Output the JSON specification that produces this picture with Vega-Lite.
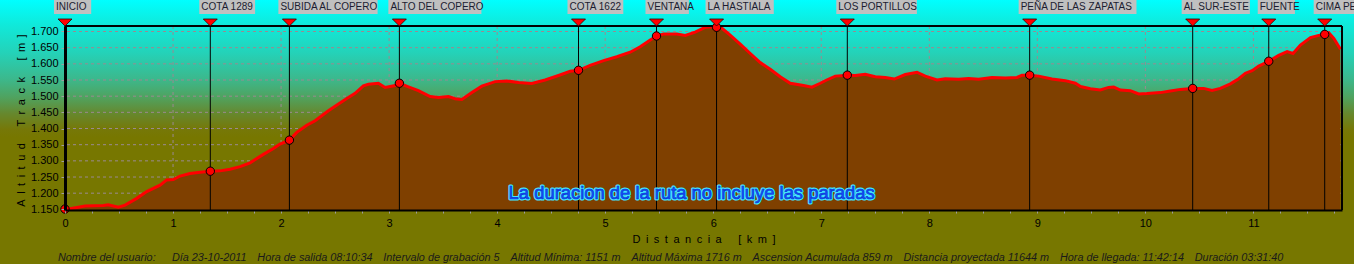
{
  "$schema": "https://vega.github.io/schema/vega-lite/v6.json",
  "width": 1277,
  "height": 184,
  "autosize": {"type": "none"},
  "padding": {"left": 65, "top": 26, "right": 12, "bottom": 54},
  "background": "#777700",
  "config": {
    "view": {"stroke": null},
    "font": "Liberation Sans",
    "axis": {"labelFont": "Liberation Sans", "labelFontSize": 11, "labelColor": "#000", "titleFont": "Liberation Sans", "titleFontSize": 11, "titleFontWeight": "normal", "titleColor": "#000", "grid": false, "labelOverlap": false}
  },
  "title": {
    "text": "Nombre del usuario:\u2002\u2002\u2002Día 23-10-2011\u2002\u2002Hora de salida 08:10:34\u2002\u2002Intervalo de grabación 5\u2002\u2002Altitud Mínima: 1151 m\u2002\u2002Altitud Máxima 1716 m\u2002\u2002Ascension Acumulada 859 m\u2002\u2002Distancia proyectada 11644 m\u2002\u2002Hora de llegada: 11:42:14\u2002\u2002Duración 03:31:40",
    "orient": "bottom", "anchor": "start", "frame": "group", "dx": -7, "offset": -12, "baseline": "top", "zindex": 1,
    "font": "Liberation Sans", "fontSize": 10.85, "fontStyle": "italic", "fontWeight": "normal", "color": "#1a1a1a"
  },
  "datasets": {
    "profile": [
      {"km": 0, "alt": 1151}, {"km": 0.046, "alt": 1152}, {"km": 0.185, "alt": 1160}, {"km": 0.355, "alt": 1162},
      {"km": 0.4, "alt": 1164}, {"km": 0.494, "alt": 1157}, {"km": 0.556, "alt": 1163}, {"km": 0.664, "alt": 1184},
      {"km": 0.756, "alt": 1205}, {"km": 0.88, "alt": 1225}, {"km": 0.941, "alt": 1241}, {"km": 1.003, "alt": 1242},
      {"km": 1.065, "alt": 1253}, {"km": 1.157, "alt": 1261}, {"km": 1.25, "alt": 1265}, {"km": 1.345, "alt": 1268},
      {"km": 1.435, "alt": 1269}, {"km": 1.528, "alt": 1274}, {"km": 1.62, "alt": 1282}, {"km": 1.713, "alt": 1294},
      {"km": 1.836, "alt": 1320}, {"km": 1.929, "alt": 1338}, {"km": 1.99, "alt": 1352}, {"km": 2.077, "alt": 1364},
      {"km": 2.145, "alt": 1388}, {"km": 2.238, "alt": 1410}, {"km": 2.315, "alt": 1424}, {"km": 2.438, "alt": 1455},
      {"km": 2.531, "alt": 1476}, {"km": 2.608, "alt": 1493}, {"km": 2.685, "alt": 1509}, {"km": 2.762, "alt": 1532},
      {"km": 2.809, "alt": 1537}, {"km": 2.901, "alt": 1540}, {"km": 2.963, "alt": 1527}, {"km": 3.056, "alt": 1533},
      {"km": 3.095, "alt": 1540}, {"km": 3.179, "alt": 1529}, {"km": 3.271, "alt": 1517}, {"km": 3.38, "alt": 1499},
      {"km": 3.457, "alt": 1496}, {"km": 3.549, "alt": 1499}, {"km": 3.611, "alt": 1492}, {"km": 3.673, "alt": 1490},
      {"km": 3.766, "alt": 1511}, {"km": 3.858, "alt": 1531}, {"km": 3.981, "alt": 1545}, {"km": 4.09, "alt": 1547},
      {"km": 4.198, "alt": 1542}, {"km": 4.321, "alt": 1539}, {"km": 4.444, "alt": 1550}, {"km": 4.568, "alt": 1564},
      {"km": 4.676, "alt": 1577}, {"km": 4.753, "alt": 1580}, {"km": 4.861, "alt": 1595}, {"km": 4.985, "alt": 1610},
      {"km": 5.108, "alt": 1622}, {"km": 5.231, "alt": 1636}, {"km": 5.324, "alt": 1653}, {"km": 5.417, "alt": 1674},
      {"km": 5.475, "alt": 1686}, {"km": 5.54, "alt": 1692}, {"km": 5.664, "alt": 1692}, {"km": 5.741, "alt": 1688},
      {"km": 5.833, "alt": 1698}, {"km": 5.926, "alt": 1713}, {"km": 5.988, "alt": 1715}, {"km": 6.034, "alt": 1713},
      {"km": 6.08, "alt": 1710}, {"km": 6.157, "alt": 1689}, {"km": 6.25, "alt": 1661}, {"km": 6.343, "alt": 1632},
      {"km": 6.435, "alt": 1604}, {"km": 6.528, "alt": 1583}, {"km": 6.62, "alt": 1560}, {"km": 6.713, "alt": 1540},
      {"km": 6.836, "alt": 1533}, {"km": 6.914, "alt": 1528}, {"km": 6.991, "alt": 1540}, {"km": 7.05, "alt": 1550},
      {"km": 7.13, "alt": 1562}, {"km": 7.243, "alt": 1565}, {"km": 7.315, "alt": 1564}, {"km": 7.407, "alt": 1568},
      {"km": 7.5, "alt": 1560}, {"km": 7.593, "alt": 1558}, {"km": 7.676, "alt": 1553}, {"km": 7.778, "alt": 1567},
      {"km": 7.886, "alt": 1574}, {"km": 7.963, "alt": 1562}, {"km": 8.071, "alt": 1550}, {"km": 8.148, "alt": 1554},
      {"km": 8.272, "alt": 1552}, {"km": 8.364, "alt": 1555}, {"km": 8.457, "alt": 1552}, {"km": 8.58, "alt": 1558},
      {"km": 8.704, "alt": 1556}, {"km": 8.812, "alt": 1558}, {"km": 8.858, "alt": 1565}, {"km": 8.929, "alt": 1565},
      {"km": 9.012, "alt": 1562}, {"km": 9.136, "alt": 1553}, {"km": 9.259, "alt": 1548}, {"km": 9.352, "alt": 1540},
      {"km": 9.4, "alt": 1530}, {"km": 9.44, "alt": 1527}, {"km": 9.491, "alt": 1523}, {"km": 9.583, "alt": 1519},
      {"km": 9.66, "alt": 1527}, {"km": 9.707, "alt": 1528}, {"km": 9.769, "alt": 1519}, {"km": 9.861, "alt": 1517},
      {"km": 9.938, "alt": 1507}, {"km": 10.015, "alt": 1508}, {"km": 10.139, "alt": 1511}, {"km": 10.231, "alt": 1516},
      {"km": 10.324, "alt": 1521}, {"km": 10.438, "alt": 1524}, {"km": 10.54, "alt": 1524}, {"km": 10.617, "alt": 1518},
      {"km": 10.694, "alt": 1524}, {"km": 10.787, "alt": 1538}, {"km": 10.864, "alt": 1554}, {"km": 10.926, "alt": 1571},
      {"km": 10.988, "alt": 1579}, {"km": 11.049, "alt": 1593}, {"km": 11.142, "alt": 1608}, {"km": 11.234, "alt": 1626},
      {"km": 11.312, "alt": 1638}, {"km": 11.367, "alt": 1632}, {"km": 11.435, "alt": 1658}, {"km": 11.528, "alt": 1681},
      {"km": 11.605, "alt": 1688}, {"km": 11.66, "alt": 1691}, {"km": 11.698, "alt": 1696}, {"km": 11.744, "alt": 1679},
      {"km": 11.806, "alt": 1645}
    ],
    "waypoints": [
      {"name": "INICIO", "km": 0, "alt": 1151},
      {"name": "COTA 1289", "km": 1.345, "alt": 1268},
      {"name": "SUBIDA AL COPERO", "km": 2.077, "alt": 1364},
      {"name": "ALTO DEL COPERO", "km": 3.095, "alt": 1540},
      {"name": "COTA 1622", "km": 4.753, "alt": 1580},
      {"name": "VENTANA", "km": 5.475, "alt": 1686},
      {"name": "LA HASTIALA", "km": 6.031, "alt": 1713},
      {"name": "LOS PORTILLOS", "km": 7.241, "alt": 1565},
      {"name": "PEÑA DE LAS ZAPATAS", "km": 8.929, "alt": 1565},
      {"name": "AL SUR-ESTE", "km": 10.438, "alt": 1524},
      {"name": "FUENTE", "km": 11.142, "alt": 1608},
      {"name": "CIMA PE", "km": 11.66, "alt": 1691}
    ],
    "vgrid": [{"v": 1}, {"v": 2}, {"v": 3}, {"v": 4}, {"v": 5}, {"v": 6}, {"v": 7}, {"v": 8}, {"v": 9}, {"v": 10}, {"v": 11}],
    "hgrid": [{"v": 1200}, {"v": 1250}, {"v": 1300}, {"v": 1350}, {"v": 1400}, {"v": 1450}, {"v": 1500}, {"v": 1550}, {"v": 1600}, {"v": 1650}, {"v": 1700}],
    "frame": [{"xmin": -0.61, "xmax": 12.0, "ymin": 981, "ymax": 1797.4, "top": 1717, "right": 11.82}],
    "note": [{"text": "La duracion de la ruta no incluye las paradas", "km": 5.8, "alt": 1200}]
  },
  "layer": [
    {
      "data": {"name": "frame"},
      "mark": {"type": "rect", "stroke": null, "fill": {"gradient": "linear", "x1": 0, "y1": 0, "x2": 0, "y2": 1, "stops": [
        {"offset": 0, "color": "#00FFFF"}, {"offset": 0.095, "color": "#10E9DA"}, {"offset": 0.2, "color": "#24D2B8"},
        {"offset": 0.3, "color": "#3CB88C"}, {"offset": 0.37, "color": "#50A25E"}, {"offset": 0.43, "color": "#66882E"},
        {"offset": 0.49, "color": "#767808"}, {"offset": 0.52, "color": "#777700"}, {"offset": 1, "color": "#777700"}]}},
      "encoding": {
        "x": {"field": "xmin", "type": "quantitative", "scale": {"domain": [0, 11.82], "nice": false, "zero": false},
          "axis": {"zindex": 1, "title": "D\u2002i\u2002s\u2002t\u2002a\u2002n\u2002c\u2002i\u2002a\u2002\u2002\u2002[\u2002k\u2002m\u2002]", "titlePadding": 5, "tickCount": 200,
            "values": [0,0.25,0.5,0.75,1,1.25,1.5,1.75,2,2.25,2.5,2.75,3,3.25,3.5,3.75,4,4.25,4.5,4.75,5,5.25,5.5,5.75,6,6.25,6.5,6.75,7,7.25,7.5,7.75,8,8.25,8.5,8.75,9,9.25,9.5,9.75,10,10.25,10.5,10.75,11,11.25,11.5,11.75],
            "labelExpr": "datum.value % 1 === 0 ? format(datum.value, 'd') : ''", "labelOverlap": false, "labelFlush": false,
            "domainColor": "#000", "domainWidth": 2, "tickColor": "#a0a0a0", "tickSize": 3, "labelPadding": 4}},
        "x2": {"field": "xmax"},
        "y": {"field": "ymin", "type": "quantitative", "scale": {"domain": [1148, 1717], "nice": false, "zero": false},
          "axis": {"zindex": 1, "title": "A\u2002l\u2002t\u2002i\u2002t\u2002u\u2002d\u2002\u2002\u2002T\u2002r\u2002a\u2002c\u2002k\u2002\u2002\u2002[\u2002m\u2002]", "titleX": -44, "titleY": 94, "titleBaseline": "middle", "tickCount": 200,
            "values": [1150,1200,1250,1300,1350,1400,1450,1500,1550,1600,1650,1700],
            "labelExpr": "replace(format(datum.value, ','), ',', '.')", "labelOverlap": false,
            "domainColor": "#000", "domainWidth": 3, "tickColor": "#a0a0a0", "tickSize": 4, "labelPadding": 3}},
        "y2": {"field": "ymax"}
      }
    },
    {
      "data": {"name": "hgrid"},
      "mark": {"type": "rule", "stroke": "#9a8a90", "strokeWidth": 1, "strokeDash": [3, 3]},
      "encoding": {"y": {"field": "v", "type": "quantitative", "scale": {"domain": [1148, 1717], "nice": false, "zero": false}}}
    },
    {
      "data": {"name": "vgrid"},
      "mark": {"type": "rule", "stroke": "#9a8a90", "strokeWidth": 1, "strokeDash": [3, 3]},
      "encoding": {"x": {"field": "v", "type": "quantitative", "scale": {"domain": [0, 11.82], "nice": false, "zero": false}}}
    },
    {
      "data": {"name": "profile"},
      "mark": {"type": "area", "fill": "#7F4000", "opacity": 1, "fillOpacity": 1, "line": {"color": "#FF0000", "strokeWidth": 3}},
      "encoding": {
        "x": {"field": "km", "type": "quantitative", "scale": {"domain": [0, 11.82], "nice": false, "zero": false}},
        "y": {"field": "alt", "type": "quantitative", "scale": {"domain": [1148, 1717], "nice": false, "zero": false}},
        "y2": {"datum": 1148}
      }
    },
    {
      "data": {"name": "frame"},
      "mark": {"type": "rule", "stroke": "#000", "strokeWidth": 2},
      "encoding": {"y": {"field": "top", "type": "quantitative", "scale": {"domain": [1148, 1717], "nice": false, "zero": false}}}
    },
    {
      "data": {"name": "frame"},
      "mark": {"type": "rule", "stroke": "#000", "strokeWidth": 2},
      "encoding": {"x": {"field": "right", "type": "quantitative", "scale": {"domain": [0, 11.82], "nice": false, "zero": false}}}
    },
    {
      "data": {"name": "waypoints"},
      "mark": {"type": "rule", "stroke": "#000", "strokeWidth": 1},
      "encoding": {"x": {"field": "km", "type": "quantitative", "scale": {"domain": [0, 11.82], "nice": false, "zero": false}}}
    },
    {
      "data": {"name": "waypoints"},
      "mark": {"type": "point", "filled": true, "fill": "#FF0000", "stroke": "#000", "strokeWidth": 1, "size": 70, "opacity": 1},
      "encoding": {
        "x": {"field": "km", "type": "quantitative", "scale": {"domain": [0, 11.82], "nice": false, "zero": false}},
        "y": {"field": "alt", "type": "quantitative", "scale": {"domain": [1148, 1717], "nice": false, "zero": false}}
      }
    },
    {
      "data": {"name": "note"},
      "mark": {"type": "text", "font": "Liberation Sans", "fontSize": 18.4, "fill": "#40E4FF", "stroke": "#40E4FF", "strokeWidth": 3, "strokeJoin": "round", "align": "center", "baseline": "middle"},
      "encoding": {
        "text": {"field": "text"},
        "x": {"field": "km", "type": "quantitative", "scale": {"domain": [0, 11.82], "nice": false, "zero": false}},
        "y": {"field": "alt", "type": "quantitative", "scale": {"domain": [1148, 1717], "nice": false, "zero": false}}
      }
    },
    {
      "data": {"name": "note"},
      "mark": {"type": "text", "font": "Liberation Sans", "fontSize": 18.4, "fill": "#1450FF", "stroke": "#0A30D0", "strokeWidth": 0.6, "align": "center", "baseline": "middle"},
      "encoding": {
        "text": {"field": "text"},
        "x": {"field": "km", "type": "quantitative", "scale": {"domain": [0, 11.82], "nice": false, "zero": false}},
        "y": {"field": "alt", "type": "quantitative", "scale": {"domain": [1148, 1717], "nice": false, "zero": false}}
      }
    },
    {
      "data": {"name": "waypoints"},
      "mark": {"type": "point", "filled": true, "fill": "#FF0000", "stroke": "#300000", "strokeWidth": 0.8, "size": 196, "opacity": 1, "shape": "M-1,-1L1,-1L0,0Z"},
      "encoding": {
        "x": {"field": "km", "type": "quantitative", "scale": {"domain": [0, 11.82], "nice": false, "zero": false}},
        "y": {"datum": 1717, "type": "quantitative", "scale": {"domain": [1148, 1717], "nice": false, "zero": false}}
      }
    },
    {
      "data": {"name": "waypoints"},
      "transform": [
        {"calculate": "datum.km - 0.102", "as": "bx0"},
        {"calculate": "datum.km - 0.102 + length(datum.name) * 6.2 / 108", "as": "bx1"}
      ],
      "mark": {"type": "rect", "fill": "#C0C0C0", "stroke": null},
      "encoding": {
        "x": {"field": "bx0", "type": "quantitative", "scale": {"domain": [0, 11.82], "nice": false, "zero": false}},
        "x2": {"field": "bx1"},
        "y": {"datum": 1797.4, "type": "quantitative", "scale": {"domain": [1148, 1717], "nice": false, "zero": false}},
        "y2": {"datum": 1754.1}
      }
    },
    {
      "data": {"name": "waypoints"},
      "mark": {"type": "text", "font": "Liberation Sans", "fontSize": 10, "fill": "#1c1c30", "align": "left", "baseline": "middle", "dx": -9, "dy": -19},
      "encoding": {
        "text": {"field": "name"},
        "x": {"field": "km", "type": "quantitative", "scale": {"domain": [0, 11.82], "nice": false, "zero": false}},
        "y": {"datum": 1717, "type": "quantitative", "scale": {"domain": [1148, 1717], "nice": false, "zero": false}}
      }
    }
  ]
}
